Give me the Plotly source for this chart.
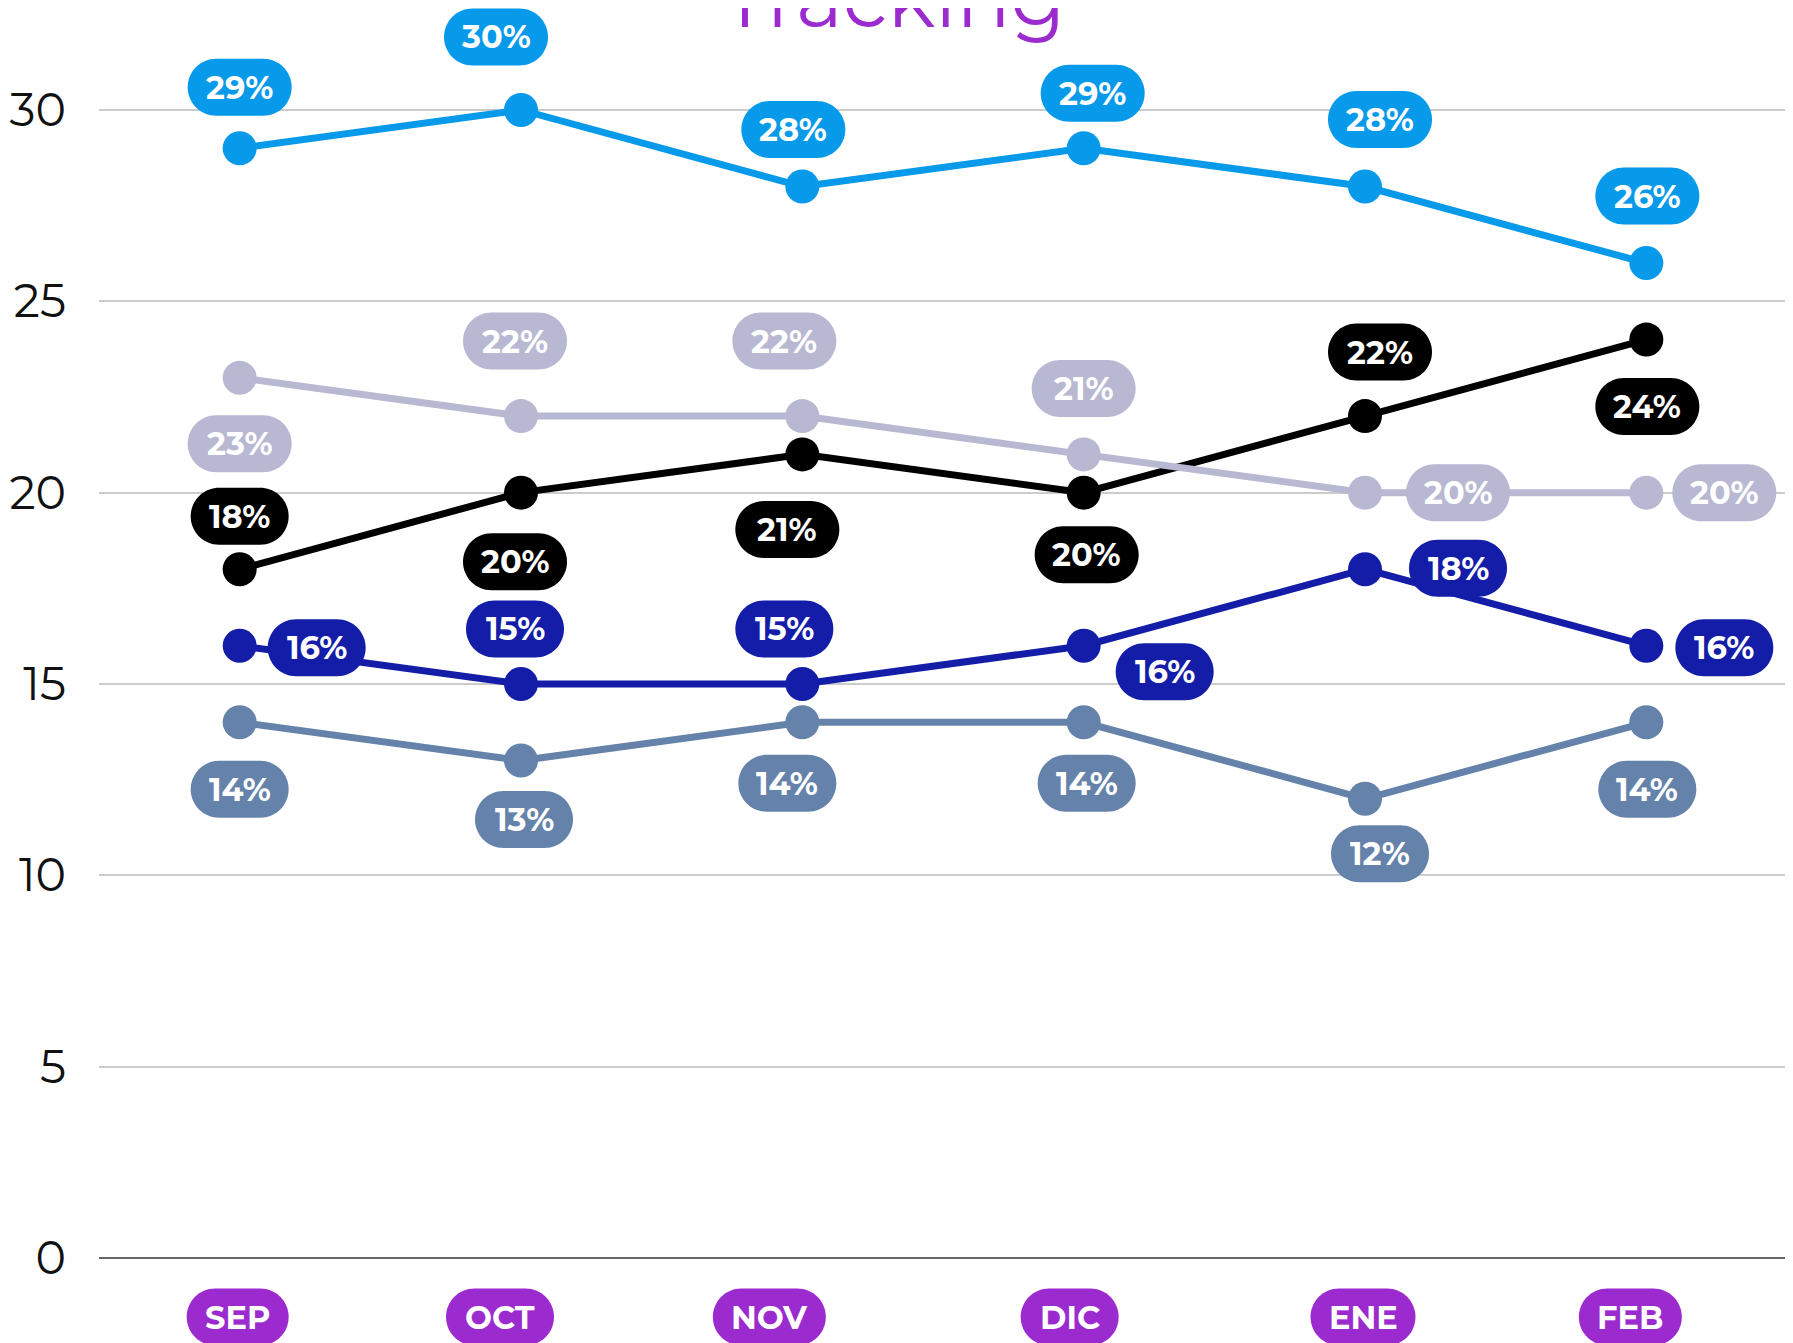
import plotly.graph_objects as go

# ---------------- data ----------------
months = ["SEP", "OCT", "NOV", "DIC", "ENE", "FEB"]
serie_celeste = [29, 30, 28, 29, 28, 26]
serie_lavanda = [23, 22, 22, 21, 20, 20]
serie_negra = [18, 20, 21, 20, 22, 24]
serie_azul = [16, 15, 15, 16, 18, 16]
serie_pizarra = [14, 13, 14, 14, 12, 14]
y_ticks = [0, 5, 10, 15, 20, 25, 30]
title_text = "Tracking"

# ---------------- styles ----------------
FONT = "Montserrat, 'Open Sans', Lato, sans-serif"
PURPLE = "#9B2BCF"
series = [
    # name, values, color, label offsets (px, screen: +x right, +y down)
    ("pizarra", serie_pizarra, "#6482AA",
     [(0, 67), (3, 59), (-15, 61), (3, 61), (15, 55), (1, 67)]),
    ("azul", serie_azul, "#131DA8",
     [(77, 2), (-6, -55), (-18, -55), (81, 26), (93, -1), (78, 2)]),
    ("negra", serie_negra, "#000000",
     [(0, -53), (-6, 69), (-15, 75), (3, 62), (15, -64), (1, 67)]),
    ("lavanda", serie_lavanda, "#B8B8D2",
     [(0, 66), (-6, -75), (-18, -75), (0, -66), (93, 0), (78, 0)]),
    ("celeste", serie_celeste, "#0799EA",
     [(0, -61), (-25, -73), (-9, -57), (9, -55), (15, -67), (1, -67)]),
]
tick_pill_dx = [-2, -21, -33, -14, -2, -16]
tick_pill_w = [102, 108, 113, 98, 105, 103]


def pill_path(cx, cy, w, h):
    r = h / 2.0
    k = 0.5523 * r
    x0, x1 = cx - w / 2.0 + r, cx + w / 2.0 - r
    yt, yb = cy + r, cy - r
    return (
        f"M{x0},{yt} L{x1},{yt} "
        f"C{x1 + k},{yt} {x1 + r},{cy + k} {x1 + r},{cy} "
        f"C{x1 + r},{cy - k} {x1 + k},{yb} {x1},{yb} "
        f"L{x0},{yb} "
        f"C{x0 - k},{yb} {x0 - r},{cy - k} {x0 - r},{cy} "
        f"C{x0 - r},{cy + k} {x0 - k},{yt} {x0},{yt} Z"
    )


fig = go.Figure()
shapes = []
annotations = []

for name, vals, color, offs in series:
    fig.add_trace(go.Scatter(
        x=list(range(len(months))), y=vals, mode="lines+markers", name=name,
        line=dict(color=color, width=7),
        marker=dict(color=color, size=34),
        hoverinfo="skip", showlegend=False,
    ))
    for i, v in enumerate(vals):
        dx, dy = offs[i]
        txt = f"{v}%"
        w = 98 if txt.startswith("1") else 104
        shapes.append(dict(
            type="path", xref="x", yref="y", xsizemode="pixel", ysizemode="pixel",
            xanchor=i, yanchor=v, path=pill_path(dx, -dy, w, 57),
            fillcolor=color, line=dict(width=0), layer="above",
        ))
        annotations.append(dict(
            x=i, y=v, xref="x", yref="y", text=f"<b>{txt}</b>", showarrow=False,
            xshift=dx, yshift=-dy, font=dict(family=FONT, size=32, color="white"),
        ))

# month pills
for i, m in enumerate(months):
    shapes.append(dict(
        type="path", xref="x", yref="paper", xsizemode="pixel", ysizemode="pixel",
        xanchor=i, yanchor=0, path=pill_path(tick_pill_dx[i], -59, tick_pill_w[i], 57),
        fillcolor=PURPLE, line=dict(width=0), layer="above",
    ))
    annotations.append(dict(
        x=i, y=0, xref="x", yref="paper", text=f"<b>{m}</b>", showarrow=False,
        xshift=tick_pill_dx[i], yshift=-59, yanchor="middle",
        font=dict(family=FONT, size=32, color="white"),
    ))

# title (partly cut at the top, as in the original)
annotations.append(dict(
    x=0.471, y=1, xref="paper", yref="paper", text=title_text, showarrow=False,
    yanchor="middle", yshift=10, font=dict(family=FONT, size=80, color=PURPLE),
))

fig.update_layout(
    width=1785, height=1335,
    margin=dict(l=91, r=6, t=0, b=85),
    paper_bgcolor="white", plot_bgcolor="white",
    shapes=shapes, annotations=annotations,
    xaxis=dict(range=[-0.5, 5.5], showgrid=False, showticklabels=False,
               zeroline=False, showline=False, fixedrange=True),
    yaxis=dict(range=[0, 32.665], tickvals=y_ticks, showgrid=True,
               gridcolor="#CCCCCC", gridwidth=1.5, zeroline=True,
               zerolinecolor="#666666", zerolinewidth=2, showline=False,
               ticks="", ticklabelstandoff=32,
               tickfont=dict(family=FONT, size=46, color="#111111")),
)

fig.write_html("out.html")
